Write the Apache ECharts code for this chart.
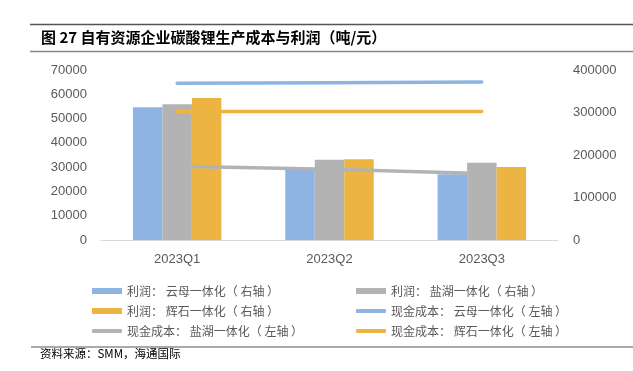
<!DOCTYPE html>
<html>
<head>
<meta charset="utf-8">
<script src="https://cdn.jsdelivr.net/npm/echarts@6/dist/echarts.min.js"></script>
<style>
html,body{margin:0;padding:0;background:#fff;}
#chart{width:633px;height:371px;}
</style>
</head>
<body>
<div id="chart"></div>
<script>
var categories = ['2023Q1', '2023Q2', '2023Q3'];
// profits (right axis)
var profitMica = [312200, 164700, 154500];
var profitSaltLake = [319300, 189000, 182000];
var profitSpodumene = [334100, 189800, 171800];
// cash costs (left axis)
var costMica = [64500, 64800, 65100];
var costSaltLake = [30350, 29150, 27350];
var costSpodumene = [52900, 52900, 52900];

var names = [
  '利润： 云母一体化（ 右轴 ）',
  '利润： 盐湖一体化（ 右轴 ）',
  '利润： 辉石一体化（ 右轴 ）',
  '现金成本： 云母一体化（ 左轴 ）',
  '现金成本： 盐湖一体化（ 左轴 ）',
  '现金成本： 辉石一体化（ 左轴 ）'
];
var cBlue = '#8EB4E3', cGray = '#B3B3B3', cOrange = '#EBB443';
var cjk = '"Noto Sans CJK SC", sans-serif';
var txt = '#595959';

var chart = echarts.init(document.getElementById('chart'));

function leg(name, left, cy, isLine) {
  return {
    data: [name], left: left, top: cy - 8, padding: 0,
    itemWidth: 30, itemHeight: isLine ? 4 : 6, itemGap: 0,
    icon: isLine ? 'roundRect' : 'rect',
    textStyle: { fontFamily: cjk, fontSize: 12, color: txt, lineHeight: 16 },
    selectedMode: false
  };
}

var option = {
  animation: false,
  backgroundColor: '#fff',
  grid: { left: 101, right: 75, top: 70, bottom: 131 },
  legend: [
    leg(names[0], 92, 291, false),
    leg(names[1], 356, 291, false),
    leg(names[2], 92, 311, false),
    leg(names[3], 356, 311, true),
    leg(names[4], 92, 331, true),
    leg(names[5], 356, 331, true)
  ],
  xAxis: {
    type: 'category', data: categories,
    axisLine: { lineStyle: { color: '#D9D9D9', width: 1 } },
    axisTick: { show: false },
    axisLabel: { color: txt, fontSize: 13, fontFamily: 'Liberation Sans', margin: 13 }
  },
  yAxis: [
    {
      type: 'value', min: 0, max: 70000, interval: 10000,
      splitLine: { show: false }, axisLine: { show: false }, axisTick: { show: false },
      axisLabel: { color: txt, fontSize: 13, fontFamily: 'Liberation Sans', margin: 14, formatter: function (v) { return String(v); } }
    },
    {
      type: 'value', min: 0, max: 400000, interval: 100000,
      splitLine: { show: false }, axisLine: { show: false }, axisTick: { show: false },
      axisLabel: { color: txt, fontSize: 13, fontFamily: 'Liberation Sans', margin: 15, formatter: function (v) { return String(v); } }
    }
  ],
  series: [
    { name: names[0], type: 'bar', yAxisIndex: 1, data: profitMica, barWidth: 29.5, barGap: '0%', itemStyle: { color: cBlue } },
    { name: names[1], type: 'bar', yAxisIndex: 1, data: profitSaltLake, barWidth: 29.5, barGap: '0%', itemStyle: { color: cGray } },
    { name: names[2], type: 'bar', yAxisIndex: 1, data: profitSpodumene, barWidth: 29.5, barGap: '0%', itemStyle: { color: cOrange } },
    { name: names[3], type: 'line', yAxisIndex: 0, data: costMica, symbol: 'none', z: 5, lineStyle: { color: cBlue, width: 3.5, cap: 'round' }, itemStyle: { color: cBlue } },
    { name: names[4], type: 'line', yAxisIndex: 0, data: costSaltLake, symbol: 'none', z: 5, lineStyle: { color: cGray, width: 3.5, cap: 'round' }, itemStyle: { color: cGray } },
    { name: names[5], type: 'line', yAxisIndex: 0, data: costSpodumene, symbol: 'none', z: 5, lineStyle: { color: cOrange, width: 3.5, cap: 'round' }, itemStyle: { color: cOrange } }
  ],
  graphic: [
    { type: 'line', shape: { x1: 30, y1: 24.5, x2: 633, y2: 24.5 }, style: { stroke: '#555', lineWidth: 1.5 } },
    { type: 'line', shape: { x1: 30, y1: 51.5, x2: 633, y2: 51.5 }, style: { stroke: '#888', lineWidth: 1.5 } },
    { type: 'text', left: 41, top: 30, style: { text: '图 27 自有资源企业碳酸锂生产成本与利润（吨/元）', font: 'bold 15px "Noto Sans CJK SC", sans-serif', fill: '#000' } },
    { type: 'line', shape: { x1: 31, y1: 347, x2: 633, y2: 347 }, style: { stroke: '#555', lineWidth: 1 } },
    { type: 'text', left: 40, top: 348, style: { text: '资料来源：SMM，海通国际', font: '11.5px "Noto Sans CJK SC", sans-serif', fill: '#000' } }
  ]
};
chart.setOption(option);
</script>
</body>
</html>
